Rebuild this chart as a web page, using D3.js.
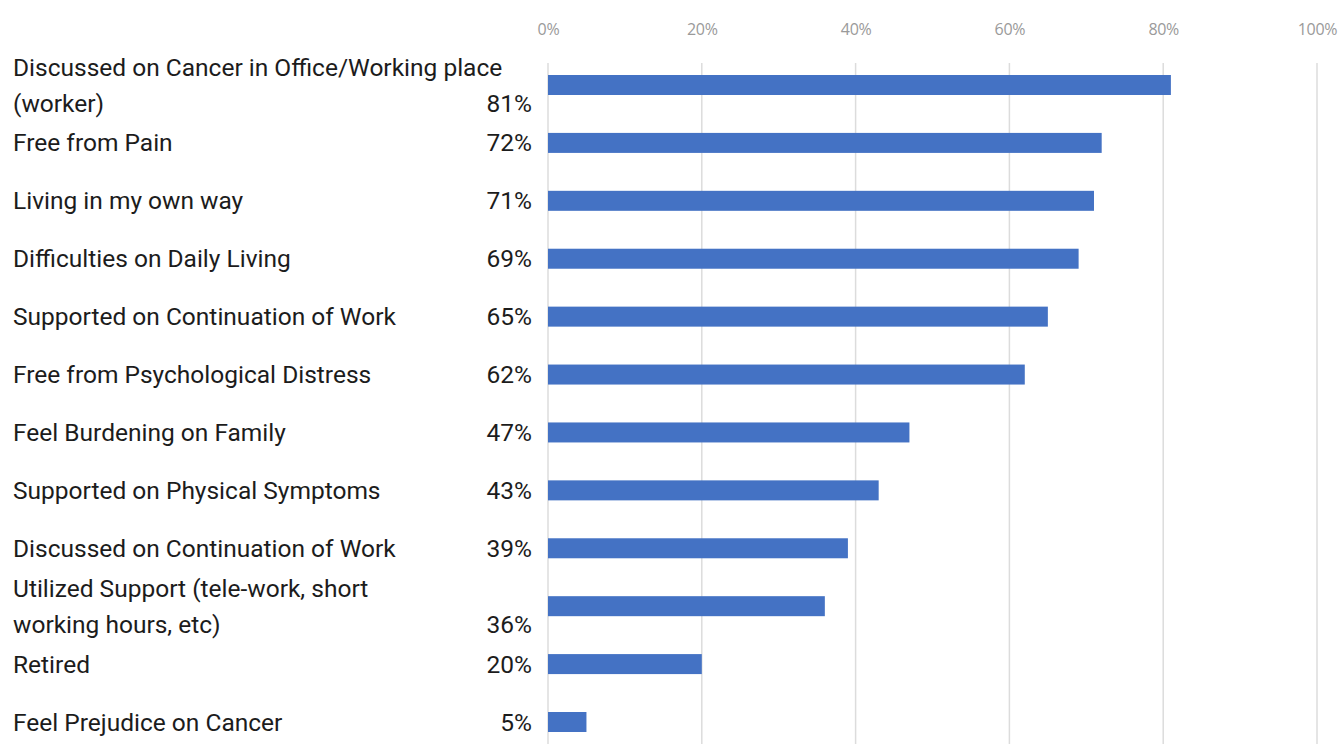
<!DOCTYPE html>
<html>
<head>
<meta charset="utf-8">
<script src="https://cdn.jsdelivr.net/npm/d3@7"></script>
<style>
  body { margin: 0; background: #fff; }
  svg { display: block; }
</style>
</head>
<body>
<script>
// labels, split where the original wraps them
var categories = [
    ["Discussed on Cancer in Office/Working place", "(worker)"],
    ["Free from Pain"],
    ["Living in my own way"],
    ["Difficulties on Daily Living"],
    ["Supported on Continuation of Work"],
    ["Free from Psychological Distress"],
    ["Feel Burdening on Family"],
    ["Supported on Physical Symptoms"],
    ["Discussed on Continuation of Work"],
    ["Utilized Support (tele-work, short", "working hours, etc)"],
    ["Retired"],
    ["Feel Prejudice on Cancer"]
];
var values = [81, 72, 71, 69, 65, 62, 47, 43, 39, 36, 20, 5];
var tickValues = [0, 20, 40, 60, 80, 100];

var width = 1341, height = 744;

var svg = d3.select("body").append("svg")
    .attr("width", width)
    .attr("height", height);

var x = d3.scaleLinear()
    .domain([0, 100])
    .range([548, 1317]);

var y = d3.scalePoint()
    .domain(d3.range(values.length))
    .range([85, 722]);

var barH = 20;

// gridlines
svg.append("g")
    .selectAll("line")
    .data(tickValues)
  .enter().append("line")
    .attr("x1", d => x(d))
    .attr("x2", d => x(d))
    .attr("y1", 63)
    .attr("y2", height)
    .attr("stroke", "#dcdcdc")
    .attr("stroke-width", 1.5);

// top axis labels
var xAxis = d3.axisTop(x)
    .tickValues(tickValues)
    .tickFormat(d => d + "%")
    .tickSize(0)
    .tickPadding(0);

var gx = svg.append("g")
    .attr("transform", "translate(0,35)")
    .call(xAxis);
gx.select(".domain").remove();
gx.selectAll("text")
    .attr("fill", "#9a9a9a")
    .attr("font-family", "'Open Sans', sans-serif")
    .attr("font-size", 16)
    .attr("letter-spacing", -0.3);

// bars
svg.append("g")
    .selectAll("rect")
    .data(values)
  .enter().append("rect")
    .attr("x", x(0))
    .attr("y", (d, i) => y(i) - barH / 2)
    .attr("width", d => x(d) - x(0))
    .attr("height", barH)
    .attr("fill", "#4472c4");

// category labels
var labels = svg.append("g")
    .attr("font-family", "Roboto, sans-serif")
    .attr("font-size", 24.5)
    .attr("fill", "#1c1c1c");

categories.forEach(function(lines, i) {
    var cy = y(i);
    var offs = lines.length == 1 ? [0] : [-18, 18];
    lines.forEach(function(t, j) {
        labels.append("text")
            .attr("x", 13)
            .attr("y", cy + offs[j])
            .attr("dy", "0.35em")
            .text(t);
    });
    // value goes on the last line
    labels.append("text")
        .attr("x", 532)
        .attr("y", cy + offs[offs.length - 1])
        .attr("dy", "0.35em")
        .attr("text-anchor", "end")
        .text(values[i] + "%");
});
</script>
</body>
</html>
